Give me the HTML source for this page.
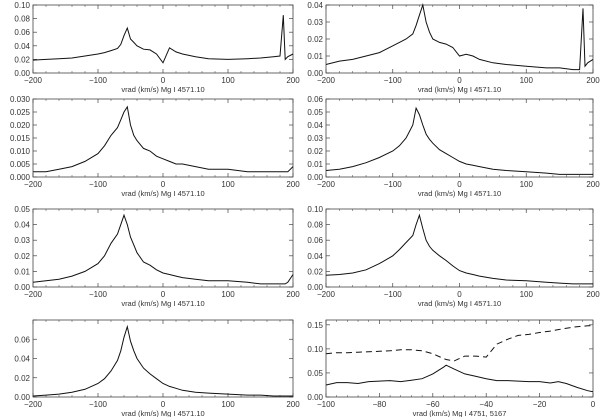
<!DOCTYPE html>
<html><head><meta charset="utf-8"><style>
body{margin:0;background:#fff}
svg{display:block;font-family:"Liberation Sans",sans-serif}
</style></head><body>
<svg id="c" width="600" height="417"></svg>
<script>
const X=[-200,-180,-160,-140,-120,-100,-90,-80,-70,-65,-60,-55,-50,-45,-40,-30,-20,-10,0,10,20,30,50,70,100,130,150,170,180,185,188,192,200];
const L1=[.019,.020,.021,.022,.025,.028,.030,.033,.036,.042,.055,.066,.050,.045,.040,.035,.034,.028,.015,.037,.031,.028,.024,.021,.020,.021,.022,.024,.025,.085,.020,.024,.028];
const R1=[.005,.007,.008,.010,.012,.016,.018,.020,.023,.028,.034,.040,.030,.024,.020,.018,.017,.015,.010,.011,.010,.008,.006,.005,.004,.003,.003,.002,.002,.038,.004,.006,.008];
const L2=[.002,.002,.003,.004,.006,.009,.012,.016,.019,.022,.025,.027,.020,.016,.014,.011,.010,.008,.007,.006,.005,.005,.004,.003,.003,.002,.002,.002,.002,.002,.002,.002,.004];
const R2=[.005,.006,.008,.011,.015,.020,.024,.030,.040,.053,.048,.040,.033,.029,.026,.021,.018,.015,.012,.010,.009,.008,.006,.005,.004,.003,.002,.002,.002,.002,.002,.002,.002];
const L3=[.003,.004,.005,.007,.010,.015,.020,.028,.034,.040,.046,.040,.032,.027,.022,.016,.014,.011,.009,.008,.007,.006,.005,.004,.004,.003,.002,.002,.002,.002,.002,.003,.008];
const R3=[.015,.016,.018,.022,.030,.040,.048,.057,.066,.080,.092,.075,.060,.052,.047,.040,.034,.027,.021,.018,.016,.014,.011,.009,.008,.006,.005,.004,.004,.004,.004,.004,.004];
const L4=[.001,.002,.003,.005,.008,.014,.019,.027,.038,.048,.062,.073,.058,.048,.040,.030,.024,.019,.014,.011,.009,.007,.005,.004,.003,.002,.002,.001,.001,.001,.001,.001,.001];
const X4=[-100,-96,-92,-88,-84,-80,-76,-72,-68,-64,-60,-56,-55,-52,-48,-44,-40,-36,-32,-28,-24,-20,-16,-13,-10,-6,-2,0];
const S4=[.025,.030,.030,.028,.032,.033,.034,.032,.035,.038,.048,.062,.066,.058,.048,.043,.038,.034,.034,.033,.032,.032,.029,.032,.028,.020,.013,.011];
const D4=[.090,.092,.092,.093,.094,.095,.096,.098,.098,.096,.090,.080,.078,.075,.085,.085,.083,.110,.120,.128,.130,.134,.137,.140,.143,.146,.148,.148];
const NS="http://www.w3.org/2000/svg";
const svg=document.getElementById('c');
function mk(t,a,p){const e=document.createElementNS(NS,t);for(const k in a)e.setAttribute(k,a[k]);(p||svg).appendChild(e);return e;}
function panel(name,x0,x1,y0,y1,xmin,xmax,xstep,ymax,ystep,ylab,dec,title,series){
  const g=mk('g',{});
  
  
  const sx=v=>x0+(v-xmin)/(xmax-xmin)*(x1-x0);
  const sy=v=>y1-v/ymax*(y1-y0);
  const fr=mk('rect',{x:x0,y:y0,width:x1-x0,height:y1-y0,fill:'none',stroke:'#444','stroke-width':0.8},g);
  
  for(let v=xmin;v<=xmax+1e-9;v+=xstep){
    const px=sx(v);
    mk('line',{x1:px,x2:px,y1:y1,y2:y1-4,stroke:'#444','stroke-width':0.7},g);
    mk('line',{x1:px,x2:px,y1:y0,y2:y0+4,stroke:'#444','stroke-width':0.7},g);
    const t=mk('text',{x:px,y:y1+10,'font-size':8,fill:'#333','text-anchor':'middle'},g);
    t.textContent=(v<0?'\u2212'+(-v):v);
    
    for(let m=1;m<5&&v+m*xstep/5<=xmax;m++){const q=sx(v+m*xstep/5);mk('line',{x1:q,x2:q,y1:y1,y2:y1-2,stroke:'#444','stroke-width':0.5},g);mk('line',{x1:q,x2:q,y1:y0,y2:y0+2,stroke:'#444','stroke-width':0.5},g);}
  }
  for(let v=0;v<=ymax+1e-9;v+=ystep){
    const py=sy(v);
    mk('line',{x1:x0,x2:x0+4,y1:py,y2:py,stroke:'#444','stroke-width':0.7},g);
    mk('line',{x1:x1,x2:x1-4,y1:py,y2:py,stroke:'#444','stroke-width':0.7},g);
    if(v<=ylab+1e-9){const t=mk('text',{x:x0-3,y:py+3,'font-size':8,fill:'#333','text-anchor':'end'},g);
    t.textContent=v.toFixed(dec);
    }
  }
  const tt=mk('text',{x:(x0+x1)/2,y:y1+19,'font-size':7.5,fill:'#333','text-anchor':'middle'},g);
  tt.textContent=title;
  
  for(const s of series){
    const p=mk('path',{d:s.x.map((v,i)=>(i?'L':'M')+sx(v).toFixed(1)+','+sy(s.y[i]).toFixed(1)).join(''),fill:'none',stroke:'#111','stroke-width':1,'stroke-dasharray':s.dash||''},g);
    
  }
}
const T='vrad (km/s)  Mg I 4571.10';
panel('panel-1',33,293,5,73,-200,200,100,.10,.02,.10,2,T,[{x:X,y:L1,n:'spectrum-line'}]);
panel('panel-2',326,593,5,73,-200,200,100,.04,.01,.04,2,T,[{x:X,y:R1,n:'spectrum-line'}]);
panel('panel-3',33,293,99,177,-200,200,100,.03,.005,.03,3,T,[{x:X,y:L2,n:'spectrum-line'}]);
panel('panel-4',326,593,99,177,-200,200,100,.06,.01,.06,2,T,[{x:X,y:R2,n:'spectrum-line'}]);
panel('panel-5',33,293,209,287,-200,200,100,.05,.01,.05,2,T,[{x:X,y:L3,n:'spectrum-line'}]);
panel('panel-6',326,593,209,287,-200,200,100,.10,.02,.10,2,T,[{x:X,y:R3,n:'spectrum-line'}]);
panel('panel-7',33,293,320,397,-200,200,100,.08,.02,.06,2,T,[{x:X,y:L4,n:'spectrum-line'}]);
panel('panel-8',326,593,320,397,-100,0,20,.16,.05,.15,2,'vrad (km/s) Mg I 4751, 5167',[{x:X4,y:S4,n:'solid-line'},{x:X4,y:D4,n:'dashed-line',dash:'6,4'}]);
</script>
</body></html>
